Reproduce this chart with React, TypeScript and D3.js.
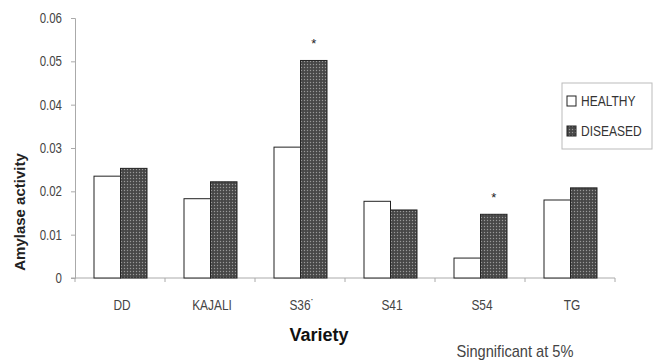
import React, { useEffect, useRef } from 'react'
import * as d3 from 'd3'

const varieties = ['DD', 'KAJALI', 'S36', 'S41', 'S54', 'TG']
const healthy = [0.0235, 0.0183, 0.0302, 0.0177, 0.0046, 0.018]
const diseased = [0.0253, 0.0222, 0.0502, 0.0157, 0.0147, 0.0208]
const significant = ['S36', 'S54']
const yTicks = [0, 0.01, 0.02, 0.03, 0.04, 0.05, 0.06]
const seriesNames = ['HEALTHY', 'DISEASED']

const W = 659
const H = 364
const margin = { top: 18, right: 44, bottom: 86, left: 75 }
const sans = 'Arial, "Liberation Sans", sans-serif'

// squeeze text horizontally, the scan uses a narrow font
function condense (sel: d3.Selection<any, any, any, any>, factor: number) {
  sel.each(function () {
    const t = this as SVGTextElement
    const len = t.getComputedTextLength()
    d3.select(t).attr('textLength', len * factor).attr('lengthAdjust', 'spacingAndGlyphs')
  })
}

export default function App () {
  const ref = useRef<SVGSVGElement>(null)

  useEffect(() => {
    const svg = d3.select(ref.current)
    svg.selectAll('*').remove()

    const defs = svg.append('defs')
    const pat = defs.append('pattern')
      .attr('id', 'dots')
      .attr('width', 3)
      .attr('height', 3)
      .attr('patternUnits', 'userSpaceOnUse')
    pat.append('rect').attr('width', 3).attr('height', 3).attr('fill', '#474747')
    pat.append('circle').attr('cx', 1.5).attr('cy', 1.5).attr('r', 0.7).attr('fill', '#999')

    const chartW = W - margin.left - margin.right
    const chartH = H - margin.top - margin.bottom

    const x = d3.scaleBand().domain(varieties).range([0, chartW])
    const inner = d3.scaleBand().domain(seriesNames).range([19, 72])
    const y = d3.scaleLinear().domain([0, 0.06]).range([chartH, 0])

    const g = svg.append('g').attr('transform', `translate(${margin.left},${margin.top})`)

    // y axis
    const ya = g.append('g')
      .call(d3.axisLeft(y).tickValues(yTicks).tickSize(4).tickPadding(9)
        .tickFormat(d => (d === 0 ? '0' : d3.format('.2f')(d as number))))
    ya.selectAll('path').attr('stroke', '#aaa')
    ya.selectAll('line').attr('stroke', '#aaa')
    const yt = ya.selectAll('text').attr('fill', '#444').style('font-family', sans).style('font-size', '14px')
    condense(yt, 0.82)

    // x axis
    const xa = g.append('g').attr('transform', `translate(0,${chartH})`)
    xa.append('line').attr('x1', -4).attr('x2', chartW).attr('stroke', '#aaa')
    xa.selectAll('.tk')
      .data(d3.range(varieties.length + 1))
      .enter().append('line')
      .attr('x1', i => i * x.step()).attr('x2', i => i * x.step())
      .attr('y1', 0).attr('y2', 4).attr('stroke', '#aaa')
    const xt = xa.selectAll('.lbl')
      .data(varieties)
      .enter().append('text')
      .attr('x', d => (x(d) as number) + x.bandwidth() / 2 + 2)
      .attr('y', 32)
      .attr('text-anchor', 'middle')
      .attr('fill', '#444')
      .style('font-family', sans).style('font-size', '14px')
      .text(d => (d === 'S36' ? 'S36\u02D9' : d))
    condense(xt, 0.85)

    const bars = [
      { name: 'HEALTHY', values: healthy, fill: '#fff' },
      { name: 'DISEASED', values: diseased, fill: 'url(#dots)' }
    ]
    bars.forEach(s => {
      g.selectAll(`.b-${s.name}`)
        .data(varieties)
        .enter().append('rect')
        .attr('x', d => (x(d) as number) + (inner(s.name) as number))
        .attr('y', (d, i) => y(s.values[i]))
        .attr('width', inner.bandwidth())
        .attr('height', (d, i) => chartH - y(s.values[i]))
        .attr('fill', s.fill)
        .attr('stroke', '#222')
        .attr('stroke-width', 1)
    })

    // significance stars
    g.selectAll('.star')
      .data(significant)
      .enter().append('text')
      .attr('x', d => (x(d) as number) + (inner('DISEASED') as number) + inner.bandwidth() / 2)
      .attr('y', d => y(diseased[varieties.indexOf(d)]) - 12)
      .attr('text-anchor', 'middle')
      .attr('fill', '#222')
      .style('font-family', sans).style('font-size', '13px')
      .text('*')

    // legend
    const lg = svg.append('g').attr('transform', 'translate(562,83)')
    lg.append('rect').attr('width', 90).attr('height', 66).attr('fill', '#fff').attr('stroke', '#bbb')
    bars.forEach((s, i) => {
      const yy = 13 + i * 30
      lg.append('rect').attr('x', 5).attr('y', yy).attr('width', 9).attr('height', 10)
        .attr('fill', s.fill).attr('stroke', '#222')
      const lt = lg.append('text').attr('x', 19).attr('y', yy + 10)
        .attr('fill', '#333')
        .style('font-family', sans).style('font-size', '15px')
        .text(s.name)
      condense(lt, 0.8)
    })

    // axis titles
    svg.append('text')
      .attr('transform', `translate(25,${212}) rotate(-90)`)
      .attr('text-anchor', 'middle')
      .style('font-family', sans)
      .style('font-weight', 'bold').style('font-size', '15px')
      .attr('fill', '#222')
      .text('Amylase activity')

    svg.append('text')
      .attr('x', 319).attr('y', 341)
      .attr('text-anchor', 'middle')
      .style('font-family', sans)
      .style('font-weight', 'bold').style('font-size', '18px')
      .attr('fill', '#111')
      .text('Variety')

    const sig = svg.append('text')
      .attr('x', 515).attr('y', 357)
      .attr('text-anchor', 'middle')
      .style('font-family', sans).style('font-size', '17px')
      .attr('fill', '#444')
      .text('Singnificant at 5%')
    condense(sig, 0.86)
  }, [])

  return (
    <svg ref={ref} width={W} height={H}
      style={{ position: 'absolute', left: 0, top: 0, background: '#fff' }} />
  )
}
